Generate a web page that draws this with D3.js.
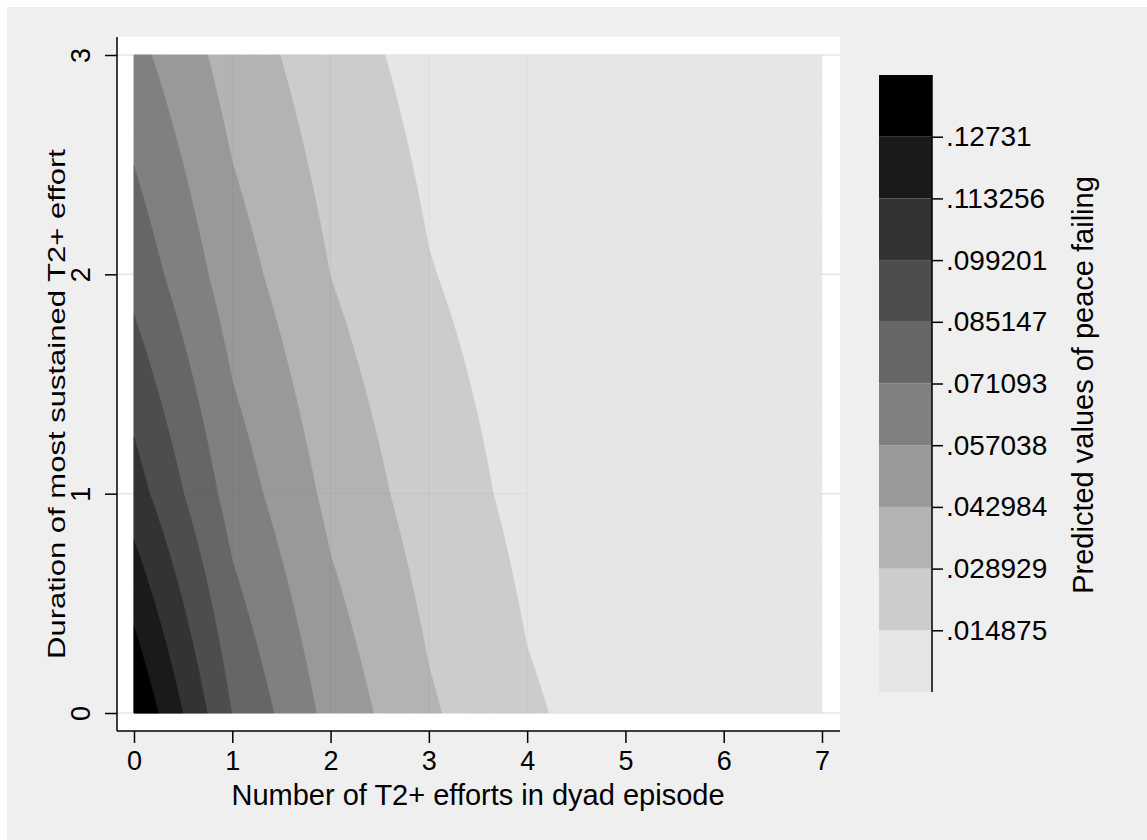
<!DOCTYPE html>
<html>
<head>
<meta charset="utf-8">
<script src="https://cdn.jsdelivr.net/npm/d3@7"></script>
<style>
  body { margin: 0; background: #ffffff; }
  svg text { font-family: "Liberation Sans", Arial, Helvetica, sans-serif; fill: #000; }
</style>
</head>
<body>
<svg id="chart" width="1147" height="840"></svg>
<script>
// grid of predicted values
var xVals = [0, 1, 2, 3, 4, 5, 6, 7];
var yVals = [0, 1, 2, 3];
var zY0 = [0.14136, 0.0848, 0.0524, 0.0308, 0.0165, 0.0091, 0.0050, 0.0028];
var zY1 = [0.1057, 0.0651, 0.0394, 0.0221, 0.0111, 0.0058, 0.0031, 0.0017];
var zY2 = [0.0805, 0.0495, 0.0288, 0.0155, 0.0079, 0.0041, 0.0022, 0.0012];
var zY3 = [0.0615, 0.0368, 0.0206, 0.0103, 0.0052, 0.0027, 0.0015, 0.00082];
var zRows = [zY0, zY1, zY2, zY3];

// contour cut points and their legend labels
var zMin = 0.000821, zMax = 0.141364;
var levelCuts = [0.014875, 0.028929, 0.042984, 0.057038, 0.071093, 0.085147, 0.099201, 0.113256, 0.12731];
var levelLabels = ['.014875', '.028929', '.042984', '.057038', '.071093', '.085147', '.099201', '.113256', '.12731'];
var grays = ['#e6e6e6', '#cccccc', '#b3b3b3', '#999999', '#808080', '#666666', '#4d4d4d', '#333333', '#1a1a1a', '#000000'];

var xTicks = [0, 1, 2, 3, 4, 5, 6, 7];
var yTicks = [0, 1, 2, 3];
var xTitle = 'Number of T2+ efforts in dyad episode';
var yTitle = 'Duration of most sustained T2+ effort';
var zTitle = 'Predicted values of peace failing';

var svg = d3.select('#chart');

// outer graph region
svg.append('rect')
  .attr('x', 7).attr('y', 7)
  .attr('width', 1140).attr('height', 833)
  .attr('fill', '#efefef');

// plot region
var plot = { left: 117, right: 840, top: 37, bottom: 731 };
svg.append('rect')
  .attr('x', plot.left).attr('y', plot.top)
  .attr('width', plot.right - plot.left).attr('height', plot.bottom - plot.top)
  .attr('fill', '#ffffff');

var x = d3.scaleLinear().domain([0, 7]).range([134, 822]);
var y = d3.scaleLinear().domain([0, 3]).range([713, 55]);

// y grid lines
svg.append('g')
  .selectAll('line')
  .data(yTicks)
  .enter().append('line')
  .attr('x1', plot.left).attr('x2', plot.right)
  .attr('y1', function(d) { return y(d); })
  .attr('y2', function(d) { return y(d); })
  .attr('stroke', '#e6e6e6')
  .attr('stroke-width', 1.5);

// resample the grid (bilinear) so the filled bands follow the cell shape
var step = 0.02;
var nx = Math.round(7 / step) + 1, ny = Math.round(3 / step) + 1;
function zAt(xv, yv) {
  var i = Math.min(Math.floor(xv), xVals.length - 2);
  var j = Math.min(Math.floor(yv), yVals.length - 2);
  var fx = xv - xVals[i], fy = yv - yVals[j];
  var a = zRows[j][i], b = zRows[j][i + 1], c = zRows[j + 1][i], d = zRows[j + 1][i + 1];
  return a * (1 - fx) * (1 - fy) + b * fx * (1 - fy) + c * (1 - fx) * fy + d * fx * fy;
}
var grid = new Array(nx * ny);
for (var j = 0; j < ny; j++) {
  for (var i = 0; i < nx; i++) {
    grid[j * nx + i] = zAt(i * step, j * step);
  }
}

var thresholds = [zMin - 1e-6].concat(levelCuts);
var contours = d3.contours()
  .size([nx, ny])
  .thresholds(thresholds)(grid);

var proj = d3.geoTransform({
  point: function(px, py) {
    var xv = Math.max(0, Math.min(7, (px - 0.5) * step));
    var yv = Math.max(0, Math.min(3, (py - 0.5) * step));
    this.stream.point(x(xv), y(yv));
  }
});
var path = d3.geoPath(proj);

svg.append('g')
  .selectAll('path')
  .data(contours)
  .enter().append('path')
  .attr('d', path)
  .attr('fill', function(d, k) { return grays[k]; })
  .attr('stroke', function(d, k) { return grays[k]; })
  .attr('stroke-width', 0.4);

// faint seams at the cell edges
var seams = svg.append('g').attr('stroke', '#000').attr('stroke-opacity', 0.04).attr('stroke-width', 1);
[1, 2, 3, 4].forEach(function(v) {
  seams.append('line')
    .attr('x1', x(v)).attr('x2', x(v))
    .attr('y1', y(0)).attr('y2', y(3));
});
seams.append('line')
  .attr('x1', x(0)).attr('x2', x(4))
  .attr('y1', y(1)).attr('y2', y(1));

// x axis
var xAxis = d3.axisBottom(x)
  .tickValues(xTicks)
  .tickSize(12)
  .tickPadding(8)
  .tickFormat(d3.format('d'));
var gx = svg.append('g')
  .attr('transform', 'translate(0,' + plot.bottom + ')')
  .call(xAxis);
gx.select('.domain').remove();
gx.selectAll('line').attr('stroke', '#000').attr('stroke-width', 1.5);
gx.selectAll('text').attr('font-size', '27px');
svg.append('line')
  .attr('x1', plot.left).attr('x2', plot.right)
  .attr('y1', plot.bottom).attr('y2', plot.bottom)
  .attr('stroke', '#000').attr('stroke-width', 1.5);

// y axis
var yAxis = d3.axisLeft(y)
  .tickValues(yTicks)
  .tickSize(12)
  .tickFormat(d3.format('d'));
var gy = svg.append('g')
  .attr('transform', 'translate(' + plot.left + ',0)')
  .call(yAxis);
gy.select('.domain').remove();
gy.selectAll('line').attr('stroke', '#000').attr('stroke-width', 1.5);
gy.selectAll('text')
  .attr('font-size', '27px')
  .attr('x', 0).attr('dy', null)
  .attr('y', -27)
  .attr('text-anchor', 'middle')
  .attr('transform', 'rotate(-90)');
svg.append('line')
  .attr('x1', plot.left).attr('x2', plot.left)
  .attr('y1', plot.top).attr('y2', plot.bottom)
  .attr('stroke', '#000').attr('stroke-width', 1.5);

// axis titles
svg.append('text')
  .attr('x', x(3.5)).attr('y', 805)
  .attr('text-anchor', 'middle')
  .attr('font-size', '29px')
  .text(xTitle);
svg.append('text')
  .attr('transform', 'translate(65,404) rotate(-90)')
  .attr('text-anchor', 'middle')
  .attr('font-size', '24px')
  .attr('textLength', 510)
  .attr('lengthAdjust', 'spacingAndGlyphs')
  .text(yTitle);

// legend colour bar
var zl = d3.scaleLinear().domain([zMin, zMax]).range([692, 75]);
var legendX = 879, legendW = 53;
var bounds = [zMin].concat(levelCuts).concat([zMax]);
svg.append('g')
  .selectAll('rect')
  .data(grays)
  .enter().append('rect')
  .attr('x', legendX)
  .attr('width', legendW)
  .attr('y', function(d, k) { return zl(bounds[k + 1]); })
  .attr('height', function(d, k) { return zl(bounds[k]) - zl(bounds[k + 1]); })
  .attr('fill', function(d) { return d; });

var zAxis = d3.axisRight(zl)
  .tickValues(levelCuts)
  .tickSize(11)
  .tickPadding(3)
  .tickFormat(function(d, k) { return levelLabels[k]; });
var gz = svg.append('g')
  .attr('transform', 'translate(' + (legendX + legendW) + ',0)')
  .call(zAxis);
gz.select('.domain').remove();
gz.selectAll('line').attr('stroke', '#000').attr('stroke-width', 1.5);
gz.selectAll('text').attr('font-size', '28px');
svg.append('line')
  .attr('x1', legendX + legendW).attr('x2', legendX + legendW)
  .attr('y1', 75).attr('y2', 692)
  .attr('stroke', '#000').attr('stroke-width', 1.5);

svg.append('text')
  .attr('transform', 'translate(1093,385) rotate(-90)')
  .attr('text-anchor', 'middle')
  .attr('font-size', '29px')
  .text(zTitle);
</script>
</body>
</html>
